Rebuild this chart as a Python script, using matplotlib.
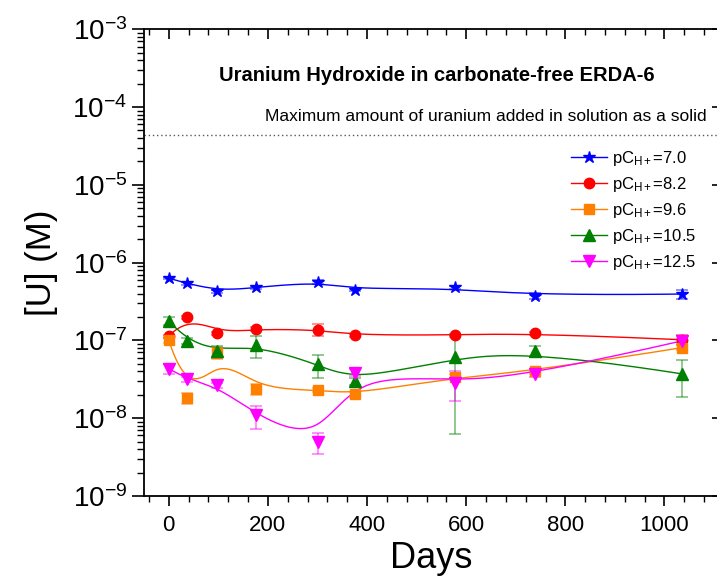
import numpy as np
import matplotlib
matplotlib.use("Agg")
import matplotlib.pyplot as plt
from matplotlib.lines import Line2D
from matplotlib.ticker import LogLocator, MultipleLocator, NullFormatter, FixedLocator

plt.rcParams["font.family"] = ["Liberation Sans", "DejaVu Sans"]
plt.rcParams["mathtext.fontset"] = "custom"
plt.rcParams["mathtext.rm"] = "Liberation Sans"
plt.rcParams["mathtext.it"] = "Liberation Sans:italic"
plt.rcParams["mathtext.bf"] = "Liberation Sans:bold"
plt.rcParams["axes.unicode_minus"] = False

# Sampling times (days)
days = [0, 37, 98, 176, 301, 376, 578, 739, 1035]

# Uranium concentration (M) and uncertainties for each pC_H+
u_pc70 = [6.3e-7, 5.4e-7, 4.3e-7, 4.8e-7, 5.65e-7, 4.5e-7, 4.8e-7, 3.75e-7, 3.95e-7]
e_pc70 = [2e-8, 2e-8, 2e-8, 2e-8, 3e-8, 2e-8, 2e-8, 3e-8, 5.5e-8]

u_pc82 = [1.14e-7, 1.99e-7, 1.24e-7, 1.40e-7, 1.37e-7, 1.17e-7, 1.17e-7, 1.24e-7, 1.02e-7]
e_pc82 = [5e-9, 8e-9, 6e-9, 8e-9, 2.4e-8, 5e-9, 5e-9, 6e-9, 1.5e-8]

u_pc96 = [1.01e-7, 1.83e-8, 6.97e-8, 2.39e-8, 2.32e-8, 2.02e-8, 3.41e-8, 4.03e-8, 8.07e-8]
e_pc96 = [8e-9, 3e-9, 1.2e-8, 4e-9, 1.5e-9, 1.5e-9, 3e-9, 3e-9, 6e-9]

u_pc105 = [1.79e-7, 9.86e-8, 7.3e-8, 8.67e-8, 4.93e-8, 3.0e-8, 6.12e-8, 7.3e-8, 3.72e-8]
e_pc105 = [2e-8, 9e-9, 1.3e-8, 2.8e-8, 1.6e-8, 3e-9, 5.5e-8, 1.2e-8, 1.85e-8]

u_pc125 = [4.33e-8, 3.16e-8, 2.64e-8, 1.09e-8, 4.94e-9, 3.85e-8, 2.85e-8, 3.66e-8, 9.86e-8]
e_pc125 = [6e-9, 2e-9, 2e-9, 3.6e-9, 1.5e-9, 4e-9, 1.2e-8, 3e-9, 5e-9]

labels = ["7.0", "8.2", "9.6", "10.5", "12.5"]
colors = ["#0000ff", "#ff0000", "#ff8000", "#008000", "#ff00ff"]
markers = ["*", "o", "s", "^", "v"]
msizes = [9, 7.5, 6.5, 8, 8]

max_added = 4.4e-5  # uranium added as a solid (M)

series = [(u_pc70, e_pc70), (u_pc82, e_pc82), (u_pc96, e_pc96),
          (u_pc105, e_pc105), (u_pc125, e_pc125)]


def bspline(x, y, n=500, k=3):
    """Clamped uniform cubic B-spline using the points as control points,
    built in (x, log10 y) space."""
    px = np.asarray(x, float)
    py = np.log10(np.asarray(y, float))
    m = len(px)
    knots = np.concatenate([np.zeros(k + 1), np.arange(1, m - k),
                            np.full(k + 1, m - k)]).astype(float)
    t = np.linspace(0, m - k, n)
    nb = len(knots) - 1
    B = np.zeros((n, nb))
    for i in range(nb):
        B[:, i] = (t >= knots[i]) & (t < knots[i + 1])
    B[-1, :] = 0
    B[-1, m - 1] = 1
    for d in range(1, k + 1):
        Bn = np.zeros((n, nb - d))
        for i in range(nb - d):
            a = knots[i + d] - knots[i]
            b = knots[i + d + 1] - knots[i + 1]
            term = np.zeros(n)
            if a > 0:
                term += (t - knots[i]) / a * B[:, i]
            if b > 0:
                term += (knots[i + d + 1] - t) / b * B[:, i + 1]
            Bn[:, i] = term
        B = Bn
    return B @ px, 10 ** (B @ py)


W, H = 717, 580
fig = plt.figure(figsize=(W / 100, H / 100), dpi=100)
x0, x1, y0, y1 = 144, 719, 29.3, 496
ax = fig.add_axes([x0 / W, 1 - y1 / H, (x1 - x0) / W, (y1 - y0) / H])
ax.set_yscale("log")
ax.set_xlim(-50, 1110)
ax.set_ylim(1e-9, 1e-3)

handles = []
for (vals, errs), lab, c, mk, ms in zip(series, labels, colors, markers, msizes):
    cx, cy = bspline(days, vals)
    ax.plot(cx, cy, color=c, lw=1.0, zorder=2)
    ax.errorbar(days, vals, yerr=errs, fmt="none", ecolor=c, elinewidth=1.2,
                capsize=4, capthick=1.2, alpha=0.5, zorder=3)
    ax.plot(days, vals, ls="none", marker=mk, ms=ms, color=c, mec=c, zorder=4)
    handles.append(Line2D([], [], color=c, lw=1.0, marker=mk, ms=ms, mec=c,
                          label=r"pC$_{\mathregular{H+}}$=" + lab))

ax.axhline(max_added, ls=(0, (1, 2)), color="0.35", lw=1.0, zorder=1)
ax.text(1086, 6.6e-5, "Maximum amount of uranium added in solution as a solid",
        ha="right", va="baseline", fontsize=12.5)
ax.text(541, 2.55e-4, "Uranium Hydroxide in carbonate-free ERDA-6",
        ha="center", va="center", fontsize=14.5, fontweight="bold")

leg = ax.legend(handles=handles, loc="upper left", bbox_to_anchor=(0.742, 0.744),
                frameon=False, fontsize=12, handlelength=2.2, handletextpad=0.3,
                labelspacing=0.42, borderpad=0, borderaxespad=0)

# axes styling
for s in ax.spines.values():
    s.set_linewidth(1.3)
ax.xaxis.set_major_locator(MultipleLocator(200))
ax.xaxis.set_minor_locator(MultipleLocator(40))
ax.yaxis.set_major_locator(LogLocator(base=10, numticks=20))
ax.yaxis.set_minor_locator(LogLocator(base=10, subs=np.arange(2, 10), numticks=20))
ax.yaxis.set_minor_formatter(NullFormatter())
ax.tick_params(axis="x", which="major", direction="out", length=7, width=1.2,
               labelsize=16, pad=7)
ax.tick_params(axis="x", which="minor", direction="out", length=4, width=1.0)
ax.tick_params(axis="y", which="major", direction="out", length=9, width=1.2,
               labelsize=20, pad=3)
ax.tick_params(axis="y", which="minor", direction="out", length=5, width=1.0)

# inward ticks on the top and right edges
top = ax.twiny()
top.set_xlim(ax.get_xlim())
top.xaxis.set_major_locator(MultipleLocator(200))
top.xaxis.set_minor_locator(MultipleLocator(40))
top.tick_params(axis="x", which="major", direction="in", length=7, width=1.2,
                labeltop=False)
top.tick_params(axis="x", which="minor", direction="in", length=4, width=1.0)
right = ax.twinx()
right.set_yscale("log")
right.set_ylim(ax.get_ylim())
right.yaxis.set_major_locator(LogLocator(base=10, numticks=20))
right.yaxis.set_minor_locator(FixedLocator([]))
right.tick_params(axis="y", which="major", direction="in", length=5, width=1.2,
                  labelright=False)
for a in (top, right):
    for s in a.spines.values():
        s.set_visible(False)

ax.set_xlabel("Days", fontsize=26, labelpad=3)
ax.set_ylabel("[U] (M)", fontsize=25)
ax.yaxis.set_label_coords(-0.15, 0.5)

fig.savefig("out.png", dpi=100)
